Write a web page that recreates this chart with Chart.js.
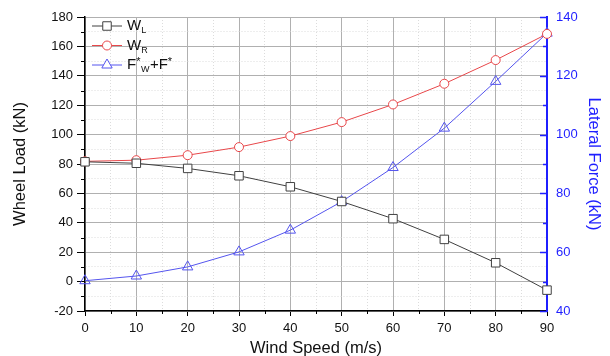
<!DOCTYPE html>
<html>
<head>
<meta charset="utf-8">
<script src="https://cdn.jsdelivr.net/npm/chart.js@4/dist/chart.umd.min.js"></script>
<style>
  html, body { margin: 0; padding: 0; background: #fff; }
  #wrap { width: 610px; height: 356px; }
</style>
</head>
<body>
<div id="wrap"><canvas id="chart" width="610" height="356"></canvas></div>
<script>
// data
const windSpeed = [0, 10, 20, 30, 40, 50, 60, 70, 80, 90];
const wheelLoadL = [81.5, 80.5, 77, 72, 64.5, 54.5, 42.8, 28.7, 12.8, -5.8];
const wheelLoadR = [81.8, 82.6, 86, 91.5, 99, 108.5, 120.5, 134.6, 150.7, 168.5];
const lateralForce = [50.3, 51.9, 55, 60.1, 67.5, 77.2, 88.8, 102.2, 118.1, 134.5];

const xTicks = [0, 10, 20, 30, 40, 50, 60, 70, 80, 90];
const leftTicks = [-20, 0, 20, 40, 60, 80, 100, 120, 140, 160, 180];
const rightTicks = [40, 60, 80, 100, 120, 140];

const FONT = "'Liberation Sans', Arial, sans-serif";
const BLUE_AXIS = "#1f1fff";
const GREY = "#404040";
const RED = "#e8474a";
const BLUE = "#5555ee";

const toXY = (xs, ys) => xs.map((x, i) => ({ x: x, y: ys[i] }));

const isMajor = (ctx, list) => ctx.tick && list.includes(ctx.tick.value);

// minor ticks (shorter) and the inward right-axis ticks drawn by hand
const extraTicks = {
  id: "extraTicks",
  afterDraw(chart) {
    const c = chart.ctx;
    const a = chart.chartArea;
    const line = (x1, y1, x2, y2) => { c.beginPath(); c.moveTo(x1, y1); c.lineTo(x2, y2); c.stroke(); };
    c.save();
    c.lineWidth = 1;
    c.strokeStyle = "#000";
    chart.scales.x.ticks.forEach(t => {
      if (xTicks.includes(t.value)) return;
      const px = Math.round(chart.scales.x.getPixelForValue(t.value)) + 0.5;
      line(px, a.bottom, px, a.bottom + 3);
    });
    chart.scales.y.ticks.forEach(t => {
      if (leftTicks.includes(t.value)) return;
      const py = Math.round(chart.scales.y.getPixelForValue(t.value)) + 0.5;
      line(a.left, py, a.left - 4, py);
    });
    c.strokeStyle = BLUE_AXIS;
    c.lineWidth = 1.5;
    chart.scales.y2.ticks.forEach(t => {
      const py = Math.round(chart.scales.y2.getPixelForValue(t.value)) + 0.5;
      const len = rightTicks.includes(t.value) ? 7 : 4;
      line(a.right, py, a.right - len, py);
    });
    c.restore();
  }
};

// legend with subscripts, top-left inside the plot
const subLegend = {
  id: "subLegend",
  afterDatasetsDraw(chart) {
    const c = chart.ctx;
    const a = chart.chartArea;
    const x0 = a.left + 7, y0 = a.top + 9, gap = 19.5;
    const entries = [
      { ds: 0, parts: [["W", 0, 15], ["L", 5, 9]] },
      { ds: 1, parts: [["W", 0, 15], ["R", 5, 9]] },
      { ds: 2, parts: [["F", 0, 15], ["*", -3, 11], ["W", 5, 9], ["+F", 0, 15], ["*", -3, 11]] }
    ];
    c.save();
    entries.forEach((e, i) => {
      const y = y0 + i * gap;
      const ds = chart.data.datasets[e.ds];
      c.strokeStyle = ds.borderColor;
      c.lineWidth = 1;
      c.beginPath(); c.moveTo(x0, y); c.lineTo(x0 + 30, y); c.stroke();
      c.fillStyle = "#fff";
      c.strokeStyle = ds.borderColor;
      Chart.helpers.drawPoint(c, {
        pointStyle: ds.pointStyle, radius: ds.pointRadius, rotation: 0,
        borderWidth: 1
      }, x0 + 15, y);
      c.fillStyle = "#111";
      c.textBaseline = "middle";
      c.textAlign = "left";
      let tx = x0 + 35;
      e.parts.forEach(p => {
        c.font = p[2] + "px " + FONT;
        c.fillText(p[0], tx, y + p[1]);
        tx += c.measureText(p[0]).width + (p[2] < 14 ? 0.5 : 0);
      });
    });
    c.restore();
  }
};

const gridColor = list => ctx => isMajor(ctx, list) ? "#b0b0b0" : "#dcdcdc";
const gridDash = list => ctx => (!ctx.tick || isMajor(ctx, list)) ? [] : [1, 2];

new Chart(document.getElementById("chart"), {
  type: "line",
  data: {
    datasets: [
      {
        label: "WL", data: toXY(windSpeed, wheelLoadL), yAxisID: "y",
        borderColor: GREY, backgroundColor: "#fff", borderWidth: 1,
        pointStyle: "rect", pointRadius: 6, pointBorderWidth: 1,
        pointBackgroundColor: "#fff", pointBorderColor: GREY, clip: false
      },
      {
        label: "WR", data: toXY(windSpeed, wheelLoadR), yAxisID: "y",
        borderColor: RED, backgroundColor: "#fff", borderWidth: 1,
        pointStyle: "circle", pointRadius: 4.5, pointBorderWidth: 1,
        pointBackgroundColor: "#fff", pointBorderColor: RED, clip: false
      },
      {
        label: "F*W+F*", data: toXY(windSpeed, lateralForce), yAxisID: "y2",
        borderColor: BLUE, backgroundColor: "#fff", borderWidth: 1,
        pointStyle: "triangle", pointRadius: 6, pointBorderWidth: 1,
        pointBackgroundColor: "rgba(255,255,255,0)", pointBorderColor: BLUE, clip: false
      }
    ]
  },
  options: {
    responsive: false,
    animation: false,
    layout: { padding: { top: 17, left: 0, right: 0, bottom: 0 } },
    plugins: { legend: { display: false }, tooltip: { enabled: false } },
    scales: {
      x: {
        type: "linear", min: 0, max: 90,
        afterFit(s) { s.height = 45; },
        ticks: {
          stepSize: 5, autoSkip: false, maxRotation: 0, padding: 5,
          color: "#111", font: { family: FONT, size: 13 },
          callback: v => xTicks.includes(v) ? String(v) : ""
        },
        grid: {
          color: gridColor(xTicks), lineWidth: 1, drawTicks: true, tickLength: 5,
          tickColor: ctx => isMajor(ctx, xTicks) ? "#000" : "rgba(0,0,0,0)"
        },
        border: { color: "#000", width: 1.5, dash: gridDash(xTicks) },
        title: {
          display: true, text: "Wind Speed (m/s)", color: "#111",
          font: { family: FONT, size: 16.5, lineHeight: 1 }, padding: { top: 0, bottom: -1 }
        }
      },
      y: {
        type: "linear", position: "left", min: -20, max: 180,
        afterFit(s) { s.width = 85; },
        ticks: {
          stepSize: 10, autoSkip: false, padding: 4,
          color: "#111", font: { family: FONT, size: 13 },
          callback: v => leftTicks.includes(v) ? String(v) : ""
        },
        grid: {
          color: gridColor(leftTicks), lineWidth: 1, drawTicks: true, tickLength: 8,
          tickColor: ctx => isMajor(ctx, leftTicks) ? "#000" : "rgba(0,0,0,0)"
        },
        border: { color: "#000", width: 1.5, dash: gridDash(leftTicks) },
        title: {
          display: true, text: "Wheel Load (kN)", color: "#111",
          font: { family: FONT, size: 16.5 }, padding: { top: 11, bottom: 0 }
        }
      },
      y2: {
        type: "linear", position: "right", min: 40, max: 140,
        afterFit(s) { s.width = 63; },
        ticks: {
          stepSize: 10, autoSkip: false, padding: 3,
          color: BLUE_AXIS, font: { family: FONT, size: 13 },
          callback: v => rightTicks.includes(v) ? String(v) : ""
        },
        grid: {
          drawOnChartArea: false, drawTicks: true, tickLength: 6,
          tickColor: "rgba(0,0,0,0)"
        },
        border: { color: BLUE_AXIS, width: 2 },
        title: {
          display: true, text: "Lateral Force (kN)", color: BLUE_AXIS,
          font: { family: FONT, size: 16.5 }, padding: { top: 7, bottom: 0 }
        }
      }
    }
  },
  plugins: [extraTicks, subLegend]
});
</script>
</body>
</html>
